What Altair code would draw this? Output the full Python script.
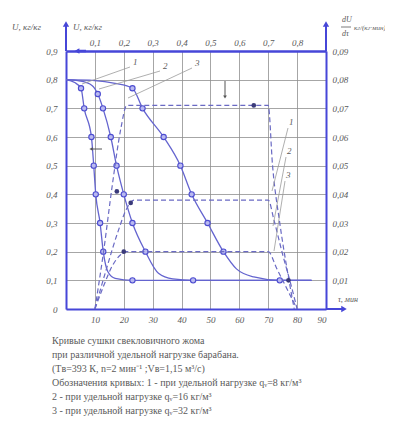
import altair as alt
import pandas as pd

# ---- drying curves U(tau): left axis U, bottom axis tau ----
tau_1 = [0, 3, 5.2, 6.3, 8.8, 9.6, 10.3, 11.8, 12.9, 14.5, 17, 23, 40, 60, 85]
u_1 = [0.80, 0.79, 0.77, 0.70, 0.60, 0.50, 0.40, 0.30, 0.20, 0.13, 0.107, 0.10, 0.10, 0.10, 0.10]
tau_2 = [0, 5, 9, 11, 12.8, 15.5, 17.5, 20, 23, 27.5, 32, 37, 44, 60, 85]
u_2 = [0.80, 0.795, 0.78, 0.75, 0.70, 0.60, 0.50, 0.40, 0.30, 0.20, 0.125, 0.105, 0.10, 0.10, 0.10]
tau_3 = [0, 10, 17, 23, 26.5, 33.8, 39.6, 43.5, 49, 54.5, 59, 65, 74, 85]
u_3 = [0.80, 0.797, 0.787, 0.77, 0.70, 0.60, 0.50, 0.40, 0.30, 0.20, 0.14, 0.112, 0.10, 0.10]

m_tau_1 = [5.2, 6.3, 8.8, 9.6, 10.3, 11.8, 12.9, 23]
m_u_1 = [0.77, 0.70, 0.60, 0.50, 0.40, 0.30, 0.20, 0.10]
m_tau_2 = [11, 12.8, 15.5, 17.5, 20, 23, 27.5, 44]
m_u_2 = [0.75, 0.70, 0.60, 0.50, 0.40, 0.30, 0.20, 0.10]
m_tau_3 = [23, 26.5, 33.8, 39.6, 43.5, 49, 54.5, 74]
m_u_3 = [0.77, 0.70, 0.60, 0.50, 0.40, 0.30, 0.20, 0.10]

# ---- drying-rate curves dU/dtau(U): top axis U, right axis rate ----
r_u_1 = [0.10, 0.13, 0.16, 0.19, 0.21, 0.30, 0.40, 0.50, 0.60, 0.70, 0.715, 0.74, 0.765, 0.79]
r_v_1 = [0, 0.02, 0.043, 0.063, 0.071, 0.071, 0.071, 0.071, 0.071, 0.071, 0.05, 0.03, 0.014, 0]
r_u_2 = [0.10, 0.14, 0.18, 0.21, 0.235, 0.40, 0.55, 0.70, 0.72, 0.75, 0.78, 0.80]
r_v_2 = [0, 0.014, 0.027, 0.035, 0.038, 0.038, 0.038, 0.038, 0.031, 0.019, 0.008, 0]
r_u_3 = [0.10, 0.13, 0.16, 0.19, 0.21, 0.40, 0.55, 0.70, 0.73, 0.76, 0.79, 0.80]
r_v_3 = [0, 0.008, 0.015, 0.019, 0.020, 0.020, 0.020, 0.020, 0.014, 0.008, 0.002, 0]

rm_u = [0.176, 0.65, 0.224, 0.20, 0.77]
rm_v = [0.041, 0.071, 0.037, 0.020, 0.01]

tau_ticks = [10, 20, 30, 40, 50, 60, 70, 80, 90]
u_ticks = [0, 0.1, 0.2, 0.3, 0.4, 0.5, 0.6, 0.7, 0.8, 0.9]
u_top_ticks = [0.1, 0.2, 0.3, 0.4, 0.5, 0.6, 0.7, 0.8]
rate_ticks = [0.01, 0.02, 0.03, 0.04, 0.05, 0.06, 0.07, 0.08, 0.09]

caption = [
    "Кривые сушки свекловичного жома",
    "при различной удельной нагрузке барабана.",
    "(Tв=393 К, n=2 мин⁻¹ ;Vв=1,15 м³/с)",
    "Обозначения кривых: 1 - при удельной нагрузке qᵥ=8 кг/м³",
    "2 - при удельной нагрузке qᵥ=16 кг/м³",
    "3 - при удельной нагрузке qᵥ=32 кг/м³",
]

AX = "#4646d8"
CURVE = "#6464cf"
GRID = "#8f8f8f"
TXT = "#5a5a5a"
FONT = "Liberation Serif"

def frame(xs, ys, xn, yn, curve):
    return pd.DataFrame({xn: xs, yn: ys, "c": curve})

solid = pd.concat([frame(tau_1, u_1, "tau", "u", "1"),
                   frame(tau_2, u_2, "tau", "u", "2"),
                   frame(tau_3, u_3, "tau", "u", "3")])
solid_m = pd.concat([frame(m_tau_1, m_u_1, "tau", "u", "1"),
                     frame(m_tau_2, m_u_2, "tau", "u", "2"),
                     frame(m_tau_3, m_u_3, "tau", "u", "3")])
rate = pd.concat([frame(r_u_1, r_v_1, "um", "rate", "1"),
                  frame(r_u_2, r_v_2, "um", "rate", "2"),
                  frame(r_u_3, r_v_3, "um", "rate", "3")])
rate_m = pd.DataFrame({"um": rm_u, "rate": rm_v})

lab_common = dict(labelFont=FONT, labelFontStyle="italic", labelColor=TXT,
                  labelFontSize=9, ticks=False, title=None, domainColor=AX,
                  gridColor=GRID, gridWidth=0.8)

x_tau = alt.X("tau:Q", scale=alt.Scale(domain=[0, 90], nice=False),
              axis=alt.Axis(orient="bottom", values=tau_ticks, grid=True,
                            domainWidth=2, labelPadding=6, **lab_common))
y_u = alt.Y("u:Q", scale=alt.Scale(domain=[0, 0.9], nice=False),
            axis=alt.Axis(orient="left", values=u_ticks, grid=True, domainWidth=2,
                          labelPadding=9,
                          labelExpr="datum.value == 0 ? '0' : replace(format(datum.value, '.1f'), '.', ',')",
                          **lab_common))

solid_lines = alt.Chart(solid).mark_line(color=CURVE, strokeWidth=1.3, interpolate="monotone").encode(
    x=x_tau, y=y_u, detail="c:N")
solid_pts = alt.Chart(solid_m).mark_point(shape="circle", filled=True, size=28, fill="#b9b9f0",
                                          stroke="#4c4cd0", strokeWidth=1.1, opacity=1).encode(
    x=x_tau, y=y_u)
solid_group = alt.layer(solid_lines, solid_pts)

x_um = alt.X("um:Q", scale=alt.Scale(domain=[0, 0.9], nice=False),
             axis=alt.Axis(orient="top", values=u_top_ticks, grid=False, domainWidth=2.5,
                           labelPadding=4,
                           labelExpr="replace(format(datum.value, '.1f'), '.', ',')",
                           **lab_common))
y_rate = alt.Y("rate:Q", scale=alt.Scale(domain=[0, 0.09], nice=False),
               axis=alt.Axis(orient="right", values=rate_ticks, grid=False, domainWidth=2,
                             labelPadding=6,
                             labelExpr="replace(format(datum.value, '.2f'), '.', ',')",
                             **lab_common))

rate_lines = alt.Chart(rate).mark_line(color="#6a6ac4", strokeWidth=1.2, strokeDash=[5, 3],
                                       interpolate="monotone").encode(
    x=x_um, y=y_rate, detail="c:N")
rate_pts = alt.Chart(rate_m).mark_point(shape="circle", filled=True, size=22, color="#3a3a7a",
                                        opacity=1).encode(x=x_um, y=y_rate)
rate_group = alt.layer(rate_lines, rate_pts)

dummy = pd.DataFrame({"a": [0]})

def txt(s, x, y, size=9, align="left", style="italic", color=TXT, baseline="middle"):
    return alt.Chart(dummy).mark_text(text=s, font=FONT, fontSize=size, fontStyle=style,
                                      color=color, align=align, baseline=baseline).encode(
        x=alt.value(x), y=alt.value(y))

def seg(x1, y1, x2, y2, color=AX, w=2):
    return alt.Chart(dummy).mark_rule(color=color, strokeWidth=w).encode(
        x=alt.value(x1), y=alt.value(y1), x2=alt.value(x2), y2=alt.value(y2))

def head(x, y, shape, color=AX, size=40):
    return alt.Chart(dummy).mark_point(shape=shape, filled=True, color=color, size=size,
                                       opacity=1).encode(x=alt.value(x), y=alt.value(y))

ann = [
    # axis extensions with arrowheads
    seg(0, -26, 0, 0), head(0, -27, "triangle-up"),
    seg(260, -26, 260, 0), head(260, -27, "triangle-up"),
    seg(260, 258, 276, 258), head(278, 258, "triangle-right"),
    head(11, 0, "triangle-left", size=30), seg(11, 0, 20, 0, w=2.5),
    # axis titles
    txt("U, кг/кг", -54, -24), txt("U, кг/кг", 7, -24),
    txt("dU", 276, -31, size=8), seg(275, -24, 285, -24, color=TXT, w=0.8),
    txt("dτ", 276, -17, size=8), txt("кг/(кг·мин)", 288, -23, size=7),
    txt("τ, мин", 272, 249, size=8),
    # curve labels with leaders
    txt("1", 67, 11, size=9), seg(64, 16, 16, 33, color="#9a9a9a", w=0.8),
    txt("2", 97, 15, size=9), seg(94, 20, 33, 38, color="#9a9a9a", w=0.8),
    txt("3", 129, 12, size=9), seg(126, 17, 62, 47, color="#9a9a9a", w=0.8),
    txt("1", 223, 71, size=9), seg(222, 77, 206, 140, color="#9a9a9a", w=0.8),
    txt("2", 221, 100, size=9), seg(220, 106, 207, 175, color="#9a9a9a", w=0.8),
    txt("3", 220, 124, size=9), seg(219, 130, 208, 200, color="#9a9a9a", w=0.8),
    # small direction arrows
    seg(159, 30, 159, 45, color="#555", w=1), head(159, 46, "triangle-down", color="#555", size=14),
    seg(26, 98, 36, 98, color="#555", w=1), head(25, 98, "triangle-left", color="#555", size=14),
]
for i, line in enumerate(caption):
    ann.append(txt(line, -14, 290 + 14 * i, size=10, style="normal"))

chart = alt.layer(solid_group, rate_group, *ann).resolve_scale(
    x="independent", y="independent"
).properties(
    width=260, height=258,
    autosize=alt.AutoSizeParams(type="none"),
    padding={"left": 58, "top": 43, "right": 59, "bottom": 116},
).configure_view(stroke=None)

chart.save("out.html", embed_options={"renderer": "svg", "actions": False})
